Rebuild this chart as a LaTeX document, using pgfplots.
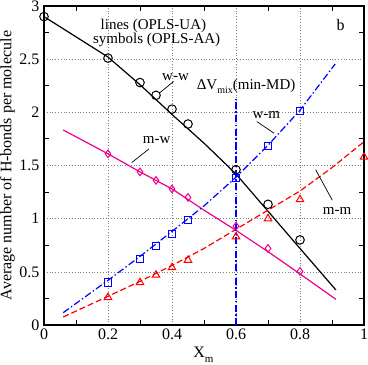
\documentclass[border=0pt]{standalone}
\usepackage{fontspec}
\setmainfont{Liberation Serif}
\usepackage{pgfplots}
\pgfplotsset{compat=1.18}
\newcommand{\fs}{\rmfamily\fontsize{16}{18}\selectfont}
\newcommand{\fa}{\rmfamily\fontsize{15}{17}\selectfont}
\begin{document}
\begin{tikzpicture}
  \begin{axis}[
      scale only axis,
      width=320pt, height=319pt,
      xmin=0, xmax=1, ymin=0, ymax=3,
      clip=false,
      xtick={0,0.2,0.4,0.6,0.8,1},
      ytick={0,0.5,1,1.5,2,2.5,3},
      minor xtick={0.1,0.3,0.5,0.7,0.9},
      minor ytick={0.25,0.75,1.25,1.75,2.25,2.75},
      major tick length=0pt,
      minor tick length=5pt,
      tick align=inside,
      tick style={black, line width=1pt},
      grid=major,
      major grid style={gray, line width=0.6pt, dash pattern=on 0.8pt off 2pt},
      axis line style={line width=1.2pt},
      /pgf/number format/assume math mode=true,
      tick label style={font=\fs},
      yticklabel style={xshift=-1pt},
      xlabel={X\raisebox{-0.7ex}{\fontsize{11}{12}\selectfont m}},
      xlabel style={at={(axis description cs:0.466,0)}, anchor=base west, inner sep=0pt, yshift=-32pt, font=\fs},
      ylabel={Average number of H-bonds per molecule},
      ylabel style={at={(axis description cs:-0.114,0.5)}, anchor=center, font=\fs},
    ]

    % lines (OPLS-UA)
    \addplot[black, line width=1.2pt] coordinates {
      (0,2.9) (0.1,2.71) (0.2,2.52) (0.3,2.26) (0.4,1.98) (0.5,1.71)
      (0.6,1.42) (0.7,1.07) (0.8,0.72) (0.912,0.33)
    };
    \addplot[magenta, line width=1.2pt] coordinates {
      (0.06,1.834) (0.2,1.61) (0.3,1.44) (0.4,1.28) (0.5,1.08)
      (0.6,0.89) (0.7,0.69) (0.8,0.48) (0.912,0.242)
    };
    \addplot[blue, line width=1.2pt, dash pattern=on 7pt off 2.5pt on 1.5pt off 2.5pt] coordinates {
      (0.06,0.116) (0.2,0.42) (0.3,0.645) (0.4,0.88) (0.5,1.12)
      (0.6,1.39) (0.7,1.69) (0.8,2.02) (0.91,2.455)
    };
    \addplot[red, line width=1.2pt, dash pattern=on 6pt off 3pt] coordinates {
      (0.06,0.075) (0.2,0.27) (0.3,0.41) (0.4,0.56) (0.5,0.72)
      (0.6,0.9) (0.7,1.08) (0.8,1.26) (0.9,1.48) (1.0,1.724)
    };
    % Delta V_mix minimum
    \addplot[blue, line width=1.2pt, dash pattern=on 7pt off 2.5pt on 1.5pt off 2.5pt] coordinates {
      (0.6,0) (0.6,2.13)
    };

    % symbols (OPLS-AA)
    \addplot[only marks, black, mark=o, mark size=4.3pt, line width=1pt] coordinates {
      (0,2.9) (0.2,2.51) (0.3,2.28) (0.35,2.16) (0.4,2.03) (0.45,1.89)
      (0.6,1.46) (0.7,1.135) (0.8,0.80)
    };
    \addplot[only marks, magenta, mark=diamond, mark size=3.8pt, line width=1pt] coordinates {
      (0.2,1.61) (0.3,1.44) (0.35,1.36) (0.4,1.28) (0.45,1.20)
      (0.6,0.93) (0.7,0.72) (0.8,0.505)
    };
    \addplot[only marks, blue, mark=square, mark size=3.6pt, line width=1pt] coordinates {
      (0.2,0.40) (0.3,0.62) (0.35,0.74) (0.4,0.853) (0.45,0.99)
      (0.6,1.38) (0.7,1.68) (0.8,2.01)
    };
    \addplot[only marks, red, mark=triangle, mark size=4.3pt, line width=1pt] coordinates {
      (0.2,0.26) (0.3,0.40) (0.35,0.47) (0.4,0.54) (0.45,0.61)
      (0.6,0.83) (0.7,1.0) (0.8,1.18) (1.0,1.58)
    };

    % annotations
    \node[anchor=base, font=\fa] at (axis cs:0.342,2.775) {lines (OPLS-UA)};
    \node[anchor=base, font=\fa] at (axis cs:0.352,2.648) {symbols (OPLS-AA)};
    \node[font=\fs] at (axis cs:0.927,2.822) {b};
    \node[font=\fa] at (axis cs:0.411,2.333) {w-w};
    \node[font=\fa] at (axis cs:0.352,1.74) {m-w};
    \node[font=\fa] at (axis cs:0.695,1.976) {w-m};
    \node[font=\fa] at (axis cs:0.916,1.07) {m-m};
    \node[anchor=base west, inner sep=0pt, font=\fa] at (axis cs:0.477,2.215)
      {ΔV\raisebox{-0.6ex}{\fontsize{10}{11}\selectfont mix}(min-MD)};
    \draw[black, line width=0.7pt] (axis cs:0.36,2.18) -- (axis cs:0.405,2.29);
    \draw[black, line width=0.7pt] (axis cs:0.274,1.527) -- (axis cs:0.328,1.656);
    \draw[black, line width=0.7pt] (axis cs:0.665,1.913) -- (axis cs:0.719,1.803);
    \draw[black, line width=0.7pt] (axis cs:0.849,1.46) -- (axis cs:0.901,1.173);
  \end{axis}
  \pgfresetboundingbox
  \path[use as bounding box] ([xshift=-44pt,yshift=-39pt]current axis.south west)
    rectangle ([xshift=4pt,yshift=6pt]current axis.north east);
\end{tikzpicture}
\end{document}
